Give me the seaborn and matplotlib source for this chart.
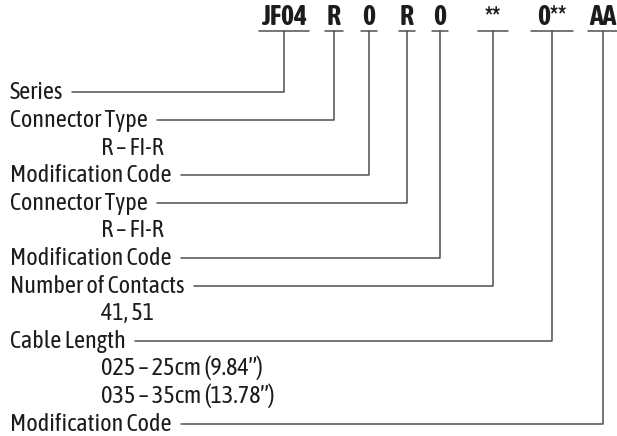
import matplotlib
matplotlib.use("Agg")
import matplotlib.pyplot as plt
from matplotlib import font_manager
import seaborn as sns
import pandas as pd

# part-number segments across the top
codes = ["JF04", "R", "0", "R", "0", "**", "0**", "AA"]

# rows of the legend, top to bottom; "code" is the index of the segment the row points to
row_text = ["Series", "Connector Type", "R – FI-R", "Modification Code",
            "Connector Type", "R – FI-R", "Modification Code", "Number of Contacts",
            "41, 51", "Cable Length", "025 – 25cm (9.84\u201d)", "035 – 35cm (13.78\u201d)",
            "Modification Code"]
row_code = [0, 1, None, 2, 3, None, 4, 5, None, 6, None, None, 7]

# layout (pixels)
W, H = 617, 436
code_x = [284, 334, 369, 407, 440, 493, 552, 603]
code_half = [25, 9, 8, 8, 8, 15, 21, 15]
code_base, underline_y = 25, 31.5
row0, row_step = 92.3, 27.6
label_x, option_x = 10, 101
text_col, line_col = "#1c1c1c", "#505050"

sns.set_theme(style="white")

# look for a narrow face that has a bold too
weights = {}
for f in font_manager.fontManager.ttflist:
    if "Narrow" in f.name or "Condensed" in f.name:
        w = f.weight if isinstance(f.weight, int) else 400
        weights.setdefault(f.name, set()).add(w)
fam = "DejaVu Sans"
if weights:
    ranked = sorted(weights, key=lambda n: (not any(w >= 600 for w in weights[n]),
                                            "Liberation" not in n, n))
    fam = ranked[0]
plt.rcParams["font.family"] = [fam, "DejaVu Sans"]

fig = plt.figure(figsize=(W / 100, H / 100), dpi=100)
ax = fig.add_axes([0, 0, 1, 1])
ax.set_xlim(0, W)
ax.set_ylim(H, 0)
ax.axis("off")

fig.canvas.draw()
renderer = fig.canvas.get_renderer()
inv = ax.transData.inverted()

# size the label font so "Modification Code" is ~162 px wide like the reference
probe = ax.text(0, 0, "Modification Code", fontsize=15)
pw = probe.get_window_extent(renderer).width
probe.remove()
fs = 15 * 162 / pw

code_txt = []
for c, x, hw in zip(codes, code_x, code_half):
    code_txt.append(ax.text(x, code_base, c, ha="center", va="baseline", fontsize=20,
                            fontweight="bold", color=text_col))
    ax.plot([x - hw, x + hw], [underline_y, underline_y], color=line_col, lw=1.1)

# scale the code font until "JF04" is ~46 px wide
for _ in range(3):
    fig.canvas.draw()
    cw = code_txt[0].get_window_extent(renderer).width
    new = code_txt[0].get_fontsize() * 46 / cw
    for t in code_txt:
        t.set_fontsize(new)

segs = []
for i, (t, k) in enumerate(zip(row_text, row_code)):
    y = row0 + i * row_step
    x0 = label_x if k is not None else option_x
    txt = ax.text(x0, y + 7, t, ha="left", va="baseline", fontsize=fs, color=text_col)
    if k is None:
        continue
    bb = txt.get_window_extent(renderer)
    xr = inv.transform((bb.x1, bb.y0))[0] + 9
    vx = code_x[k]
    for px, py in [(xr, y), (vx, y), (vx, underline_y)]:
        segs.append({"row": i, "x": px, "y": py})

df = pd.DataFrame(segs)
sns.lineplot(data=df, x="x", y="y", units="row", estimator=None, sort=False,
             color=line_col, lw=1.1, ax=ax, legend=False)
ax.set_xlim(0, W)
ax.set_ylim(H, 0)
ax.axis("off")

fig.savefig("out.png", dpi=100, facecolor="white")
